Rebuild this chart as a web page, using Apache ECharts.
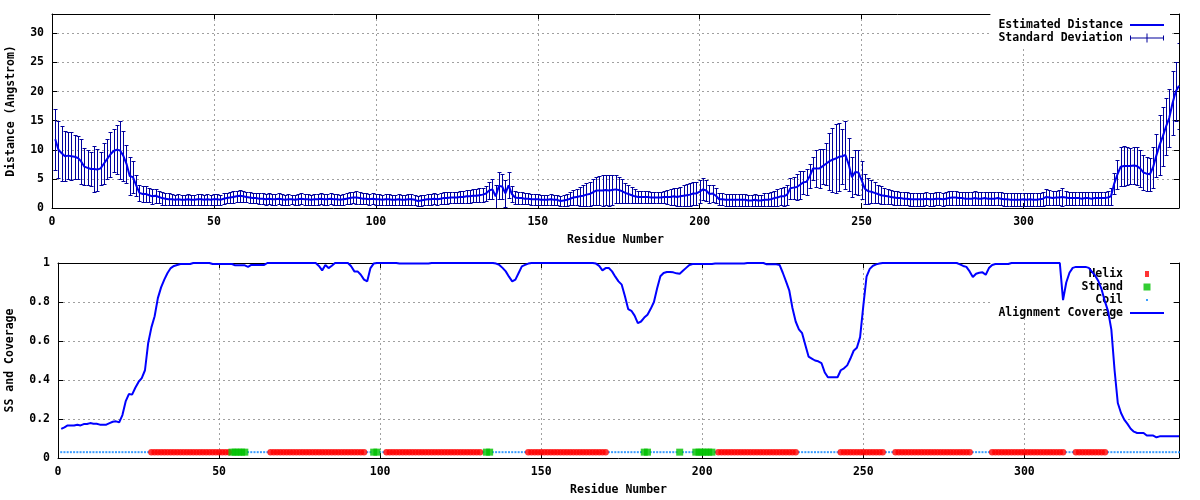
<!DOCTYPE html>
<html><head><meta charset="utf-8">
<script src="https://cdn.jsdelivr.net/npm/echarts@6/dist/echarts.min.js"></script>
<style>html,body{margin:0;padding:0;background:#fff}#c{width:1200px;height:500px}</style>
</head><body><div id="c"></div>
<script>
// Estimated distance per residue (residues 1..348)
const distance = [
11.8,10.0,9.4,8.9,9.0,8.9,8.8,8.6,8.0,7.1,
6.9,6.7,6.7,6.6,6.8,7.6,8.4,9.2,9.8,10.0,
9.9,9.0,7.6,5.5,5.3,3.9,2.6,2.4,2.4,2.2,
2.0,2.1,1.9,1.7,1.6,1.5,1.5,1.4,1.5,1.4,
1.4,1.5,1.4,1.4,1.5,1.5,1.4,1.5,1.4,1.5,
1.5,1.4,1.6,1.7,1.8,1.9,2.0,2.1,2.0,1.9,
1.8,1.7,1.7,1.6,1.6,1.5,1.6,1.5,1.5,1.6,
1.5,1.4,1.5,1.5,1.4,1.5,1.6,1.5,1.5,1.4,
1.5,1.5,1.6,1.5,1.5,1.6,1.5,1.5,1.4,1.5,
1.6,1.7,1.8,1.8,1.7,1.6,1.6,1.5,1.6,1.5,
1.5,1.4,1.5,1.5,1.4,1.4,1.5,1.4,1.4,1.5,
1.5,1.4,1.2,1.3,1.4,1.5,1.5,1.6,1.5,1.6,
1.7,1.7,1.8,1.8,1.8,1.9,1.9,2.0,2.0,2.1,
2.1,2.2,2.3,2.5,3.0,3.2,2.0,3.8,3.7,2.5,
3.9,2.4,1.8,1.7,1.7,1.6,1.6,1.5,1.5,1.5,
1.4,1.4,1.4,1.5,1.4,1.4,1.2,1.3,1.4,1.6,
1.8,1.9,2.0,2.1,2.3,2.4,2.7,3.0,3.0,3.0,
3.1,3.0,3.1,3.2,3.1,2.9,2.6,2.4,2.2,2.0,
1.9,1.9,1.9,1.9,1.8,1.8,1.8,1.8,1.9,1.9,
1.9,2.0,1.9,2.0,2.1,2.2,2.3,2.5,2.5,2.8,
3.2,3.0,2.4,2.5,2.1,1.5,1.5,1.4,1.4,1.4,
1.4,1.4,1.4,1.4,1.3,1.3,1.4,1.3,1.3,1.4,
1.4,1.5,1.7,1.8,2.0,2.0,2.3,3.4,3.5,3.6,
4.0,4.4,4.5,5.5,6.8,6.8,6.8,7.2,7.6,8.0,
8.3,8.5,8.8,8.9,9.1,7.5,5.3,6.2,6.1,4.8,
3.3,2.9,2.8,2.6,2.4,2.2,2.1,2.0,1.9,1.8,
1.7,1.7,1.6,1.6,1.5,1.5,1.5,1.5,1.5,1.6,
1.5,1.5,1.6,1.6,1.5,1.6,1.7,1.8,1.8,1.7,
1.7,1.6,1.6,1.6,1.7,1.6,1.6,1.7,1.6,1.6,
1.6,1.7,1.6,1.5,1.5,1.4,1.4,1.4,1.4,1.5,
1.4,1.5,1.4,1.4,1.5,1.6,1.9,1.8,1.7,1.8,
1.8,1.9,1.8,1.7,1.7,1.7,1.7,1.6,1.7,1.7,
1.6,1.7,1.7,1.7,1.7,1.8,2.0,4.2,5.8,7.1,
7.2,7.2,7.2,7.3,7.2,6.8,6.1,5.9,5.8,7.0,
9.0,10.8,12.3,14.0,15.5,18.0,20.0,21.0
];
// Standard deviation per residue
const stdDev = [
5.2,4.9,4.7,4.3,4.1,4.1,3.8,3.7,3.8,3.2,
3.0,3.0,3.9,3.6,2.8,3.5,3.4,3.8,3.7,4.2,
5.0,4.3,3.3,3.3,2.8,1.8,1.4,1.4,1.3,1.2,
1.3,1.2,1.1,1.1,1.0,1.0,0.9,0.9,0.9,0.8,
0.9,0.9,0.8,0.9,0.9,0.9,0.8,0.9,0.9,0.9,
0.9,0.9,0.9,0.9,1.0,1.0,1.0,1.0,1.0,0.9,
0.9,0.9,0.9,0.9,0.9,0.9,0.9,0.9,0.9,0.9,
0.9,0.9,0.9,0.8,0.9,0.9,0.9,0.9,0.9,0.9,
0.9,0.9,0.9,0.9,0.9,0.9,0.9,0.9,0.9,0.9,
0.9,1.0,1.0,1.1,1.0,0.9,0.9,0.9,0.9,0.9,
0.9,0.9,0.9,0.9,0.9,0.9,0.9,0.9,0.9,0.9,
0.9,0.9,0.9,0.9,0.9,0.9,0.9,0.9,0.9,0.9,
1.0,1.0,1.0,1.0,1.0,1.0,1.0,1.1,1.1,1.1,
1.1,1.2,1.2,1.3,1.5,1.7,2.0,2.3,2.2,2.3,
2.2,1.3,1.1,1.0,1.0,0.9,0.9,0.9,0.9,0.9,
0.9,0.9,0.9,0.9,0.9,0.9,0.9,0.9,1.0,1.1,
1.3,1.4,1.6,1.8,2.0,2.1,2.2,2.4,2.5,2.6,
2.5,2.6,2.5,2.4,2.3,2.0,1.7,1.5,1.4,1.2,
1.1,1.0,1.0,1.0,1.0,1.0,1.0,1.0,1.1,1.2,
1.3,1.4,1.5,1.6,1.8,1.9,2.0,2.0,2.0,2.0,
1.9,1.8,1.6,1.5,1.3,1.0,1.0,1.0,1.0,1.0,
1.0,1.0,1.0,1.0,1.0,1.0,1.0,1.0,1.0,1.1,
1.1,1.2,1.3,1.4,1.5,1.6,1.7,1.8,1.9,2.2,
2.4,2.0,2.2,2.0,2.0,3.2,3.3,3.0,3.6,4.9,
5.5,6.0,5.8,4.7,5.9,4.5,3.4,3.8,3.8,3.2,
2.6,2.2,2.0,1.8,1.6,1.5,1.4,1.3,1.2,1.2,
1.2,1.1,1.1,1.1,1.1,1.1,1.1,1.1,1.1,1.1,
1.1,1.1,1.1,1.1,1.1,1.1,1.2,1.2,1.2,1.1,
1.1,1.1,1.1,1.1,1.2,1.1,1.1,1.1,1.1,1.1,
1.1,1.1,1.1,1.1,1.1,1.1,1.1,1.1,1.1,1.1,
1.1,1.1,1.1,1.1,1.1,1.2,1.3,1.3,1.2,1.2,
1.3,1.5,1.2,1.1,1.1,1.1,1.1,1.1,1.1,1.1,
1.1,1.1,1.1,1.1,1.1,1.2,1.4,1.8,2.5,3.4,
3.4,3.2,3.1,3.2,3.3,3.2,3.0,2.9,2.8,3.5,
3.7,5.2,5.0,4.9,5.0,5.5,5.0,7.4
];
// Alignment coverage per residue
const coverage = [
0.149,0.157,0.167,0.167,0.167,0.171,0.167,0.174,0.174,0.179,
0.176,0.176,0.171,0.171,0.171,0.179,0.186,0.188,0.183,0.22,
0.29,0.328,0.325,0.36,0.39,0.41,0.45,0.59,0.67,0.727,
0.82,0.875,0.915,0.949,0.974,0.985,0.99,0.995,0.995,0.995,
0.995,1,1,1,1,1,1,0.995,0.995,0.995,
0.995,0.995,0.995,0.995,0.988,0.988,0.988,0.988,0.98,0.99,
0.99,0.99,0.99,0.99,1,1,1,1,1,1,
1,1,1,1,1,1,1,1,1,1,
0.985,0.962,0.99,0.974,0.986,1,1,1,1,1,
0.983,0.957,0.957,0.94,0.915,0.906,0.974,0.997,1,1,
1,1,1,1,1,0.997,0.997,0.997,0.997,0.997,
0.997,0.997,0.997,0.997,0.997,1,1,1,1,1,
1,1,1,1,1,1,1,1,1,1,
1,1,1,1,1,0.997,0.99,0.975,0.957,0.93,
0.906,0.915,0.949,0.983,0.99,0.997,1,1,1,1,
1,1,1,1,1,1,1,1,1,1,
1,1,1,1,1,1,0.997,0.985,0.962,0.974,
0.974,0.957,0.93,0.906,0.889,0.829,0.764,0.755,0.73,0.692,
0.70,0.72,0.735,0.765,0.80,0.87,0.932,0.949,0.954,0.954,
0.952,0.947,0.945,0.96,0.975,0.99,0.995,0.995,0.995,0.995,
0.995,0.995,0.995,0.997,0.997,0.997,0.997,0.997,0.997,0.997,
0.997,0.997,0.997,1,1,1,1,1,1,0.993,
0.993,0.993,0.993,0.99,0.95,0.906,0.86,0.769,0.70,0.66,
0.64,0.58,0.52,0.51,0.50,0.496,0.487,0.44,0.414,0.414,
0.414,0.414,0.45,0.46,0.475,0.51,0.55,0.565,0.62,0.78,
0.93,0.97,0.986,0.993,0.997,1,1,1,1,1,
1,1,1,1,1,1,1,1,1,1,
1,1,1,1,1,1,1,1,1,0.993,
0.985,0.98,0.957,0.928,0.945,0.95,0.952,0.94,0.974,0.99,
0.995,0.995,0.995,0.995,0.995,1,1,1,1,1,
1,1,1,1,1,1,1,1,1,1,
1,0.81,0.9,0.95,0.975,0.98,0.98,0.98,0.98,0.975,
0.955,0.935,0.906,0.863,0.803,0.752,0.658,0.45,0.282,0.231,
0.197,0.175,0.15,0.135,0.128,0.128,0.128,0.115,0.115,0.115,
0.106,0.111,0.111,0.111,0.111,0.111,0.111,0.111
];
// Secondary structure runs (residue ranges); all other residues are coil
const ssSegments = [
  ['H', 29, 53], ['E', 54, 58], ['H', 66, 95], ['E', 98, 99],
  ['H', 102, 131], ['E', 133, 134], ['H', 146, 170], ['E', 182, 183],
  ['E', 193, 193], ['E', 198, 203], ['H', 205, 229], ['H', 243, 256],
  ['H', 260, 283], ['H', 290, 312], ['H', 316, 325]
];
const ssLevel = 0.03;
const residueMax = 348;

const FONT = {fontFamily: 'DejaVu Sans Mono', fontWeight: 'bold', fontSize: 11.5, color: '#000'};
const residues = distance.map((_, i) => i + 1);
const lineData = residues.map((r, i) => [r, distance[i]]);
const errData = residues.map((r, i) => [r, distance[i] - stdDev[i], distance[i] + stdDev[i]]);
const covData = residues.map((r, i) => [r, coverage[i]]);
function ssOf(r) {
  for (const s of ssSegments) if (r >= s[1] && r <= s[2]) return s[0];
  return 'C';
}
const helixData = residues.filter(r => ssOf(r) === 'H').map(r => [r, ssLevel]);
const strandData = residues.filter(r => ssOf(r) === 'E').map(r => [r, ssLevel]);
const coilData = residues.filter(r => ssOf(r) === 'C').map(r => [r, ssLevel]);

const gridStyle = {show: true, showMinLine: false, showMaxLine: false, lineStyle: {type: [2, 3], color: '#a0a0a0', width: 1}};
function xAx(gi, main) {
  return {
    gridIndex: gi, type: 'value', min: 0, max: residueMax, interval: 50,
    position: main ? 'bottom' : 'top',
    name: main ? 'Residue Number' : '', nameLocation: 'middle', nameGap: 26, nameTextStyle: FONT,
    axisLine: {show: true, onZero: false, lineStyle: {color: '#000', width: 1}},
    axisTick: {show: true, inside: true, length: 5, lineStyle: {color: '#000'}},
    axisLabel: Object.assign({show: main, margin: 8, showMaxLabel: false}, FONT),
    splitLine: main ? gridStyle : {show: false}
  };
}
function yAx(gi, main, max, interval, name, gap) {
  return {
    gridIndex: gi, type: 'value', min: 0, max: max, interval: interval,
    position: main ? 'left' : 'right',
    name: main ? name : '', nameLocation: 'middle', nameGap: gap, nameTextStyle: FONT,
    axisLine: {show: true, onZero: false, lineStyle: {color: '#000', width: 1}},
    axisTick: {show: true, inside: true, length: 5, lineStyle: {color: '#000'}},
    axisLabel: Object.assign({show: main, margin: 8, showMaxLabel: max === 1}, FONT),
    splitLine: main ? gridStyle : {show: false}
  };
}

const icons = {
  line: 'path://M0,0M36,9M2,3.5h34v2h-34z',
  err: 'path://M0,0M36,9M2,4h34v1h-34zM2,2h1v5h-1zM35,2h1v5h-1zM18.5,0h1v9h-1z',
  helix: 'path://M0,0M36,9M17,1.5h4v6h-4z',
  strand: 'path://M0,0M36,9M15.5,1h7v7h-7z',
  coil: 'path://M0,0M36,9M18,3.5h2v2h-2z'
};
const legendBase = {
  orient: 'vertical', align: 'right', right: 30, z: 1, backgroundColor: '#fff',
  itemWidth: 36, itemHeight: 9, itemGap: 1, selectedMode: false,
  textStyle: Object.assign({lineHeight: 12}, FONT), itemStyle: {borderWidth: 0}
};

const chart = echarts.init(document.getElementById('c'), null, {renderer: 'canvas'});
chart.setOption({
  animation: false,
  backgroundColor: '#fff',
  grid: [
    {left: 52, right: 21, top: 14, height: 194, containLabel: false, outerBoundsMode: 'none'},
    {left: 58, right: 21, top: 263, height: 195, containLabel: false, outerBoundsMode: 'none'}
  ],
  xAxis: [xAx(0, true), xAx(0, false), xAx(1, true), xAx(1, false)],
  yAxis: [
    yAx(0, true, 33.33, 5, 'Distance (Angstrom)', 35), yAx(0, false, 33.33, 5, '', 0),
    yAx(1, true, 1, 0.2, 'SS and Coverage', 42), yAx(1, false, 1, 0.2, '', 0)
  ],
  legend: [
    Object.assign({}, legendBase, {top: 14, padding: [5, 6, 3, 8],
      data: [{name: 'Estimated Distance', icon: icons.line}, {name: 'Standard Deviation', icon: icons.err}]}),
    Object.assign({}, legendBase, {top: 263, padding: [5, 6, 0, 8],
      data: [{name: 'Helix', icon: icons.helix}, {name: 'Strand', icon: icons.strand},
             {name: 'Coil', icon: icons.coil}, {name: 'Alignment Coverage', icon: icons.line}]})
  ],
  series: [
    {
      name: 'Standard Deviation', type: 'custom', xAxisIndex: 0, yAxisIndex: 0, clip: true,
      itemStyle: {color: '#00009c'},
      encode: {x: 0, y: [1, 2]},
      data: errData,
      renderItem: function (params, api) {
        const lo = api.coord([api.value(0), api.value(1)]);
        const hi = api.coord([api.value(0), api.value(2)]);
        const x = Math.round(lo[0]) + 0.5;
        const yl = Math.round(lo[1]) + 0.5, yh = Math.round(hi[1]) + 0.5;
        const hw = 2;
        const st = {stroke: '#00009c', lineWidth: 1, fill: null};
        return {type: 'group', children: [
          {type: 'line', shape: {x1: x, y1: yl, x2: x, y2: yh}, style: st},
          {type: 'line', shape: {x1: x - hw, y1: yl, x2: x + hw, y2: yl}, style: st},
          {type: 'line', shape: {x1: x - hw, y1: yh, x2: x + hw, y2: yh}, style: st}
        ]};
      }
    },
    {
      name: 'Estimated Distance', type: 'line', xAxisIndex: 0, yAxisIndex: 0,
      showSymbol: false, symbol: 'none', data: lineData,
      itemStyle: {color: '#0000ee'}, lineStyle: {color: '#0000ee', width: 2}
    },
    {
      name: 'Coil', type: 'scatter', xAxisIndex: 2, yAxisIndex: 2, symbol: 'rect', symbolSize: 2,
      itemStyle: {color: '#0a84ff'}, data: coilData
    },
    {
      name: 'Helix', type: 'scatter', xAxisIndex: 2, yAxisIndex: 2, symbol: 'circle', symbolSize: 6.5,
      itemStyle: {color: '#ff0000'}, data: helixData
    },
    {
      name: 'Strand', type: 'scatter', xAxisIndex: 2, yAxisIndex: 2, symbol: 'rect', symbolSize: 7,
      itemStyle: {color: '#00c000'}, data: strandData
    },
    {
      name: 'Alignment Coverage', type: 'line', xAxisIndex: 2, yAxisIndex: 2, clip: false,
      showSymbol: false, symbol: 'none', data: covData,
      itemStyle: {color: '#0000ff'}, lineStyle: {color: '#0000ff', width: 2}
    }
  ]
});
</script>
</body></html>
